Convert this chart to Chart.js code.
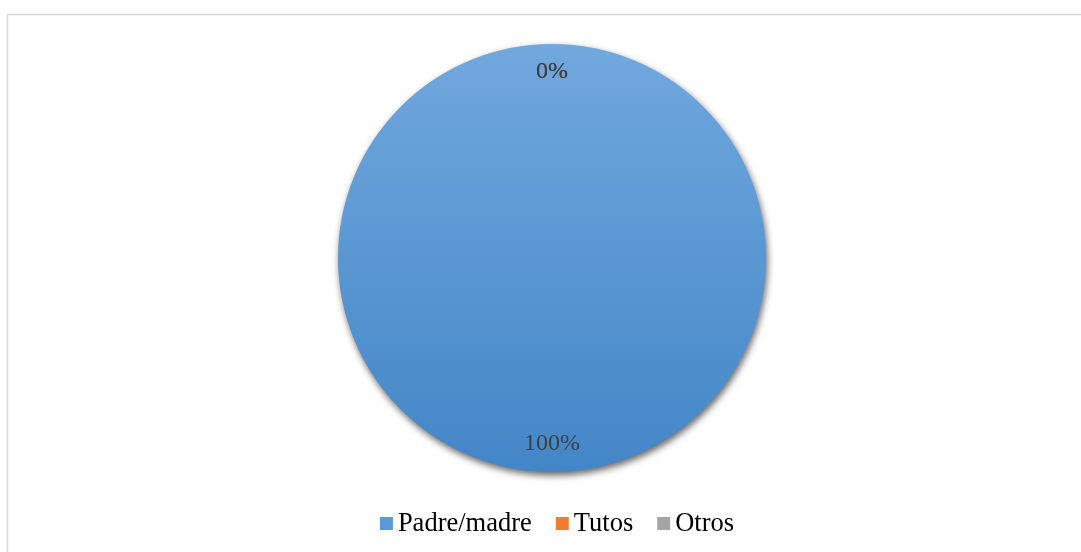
<!DOCTYPE html>
<html>
<head>
<meta charset="utf-8">
<script src="https://cdn.jsdelivr.net/npm/chart.js@4"></script>
<style>
  html, body { margin: 0; padding: 0; background: #fff; }
  #wrap { position: relative; width: 1081px; height: 552px; }
</style>
</head>
<body>
<div id="wrap"><canvas id="c" width="1081" height="552"></canvas></div>
<script>
// Respondent categories and their counts
const categories = ['Padre/madre', 'Tutos', 'Otros'];
const values = [100, 0, 0];
const swatchColors = ['#5b9bd5', '#ed7d31', '#a5a5a5'];

const serif = '"Liberation Serif", "Times New Roman", serif';

// Outer frame of the chart area
const framePlugin = {
  id: 'frame',
  beforeDraw(chart) {
    const ctx = chart.ctx;
    ctx.save();
    ctx.fillStyle = '#ffffff';
    ctx.fillRect(0, 0, chart.width, chart.height);
    ctx.strokeStyle = '#d9d9d9';
    ctx.lineWidth = 1.5;
    ctx.strokeRect(7.5, 14.5, chart.width + 20, chart.height + 20);
    ctx.restore();
  }
};

// Soft drop shadow under the pie
const shadowPlugin = {
  id: 'pieShadow',
  beforeDatasetsDraw(chart) {
    const ctx = chart.ctx;
    ctx.save();
    ctx.shadowColor = 'rgba(0,0,0,0.6)';
    ctx.shadowBlur = 7;
    ctx.shadowOffsetX = 1.5;
    ctx.shadowOffsetY = 3.5;
  },
  afterDatasetsDraw(chart) {
    chart.ctx.restore();
  }
};

// Percentage labels inside each slice, near the rim
const percentPlugin = {
  id: 'percentLabels',
  afterDatasetsDraw(chart) {
    const ctx = chart.ctx;
    const meta = chart.getDatasetMeta(0);
    const data = chart.data.datasets[0].data;
    const total = data.reduce((a, b) => a + b, 0);
    ctx.save();
    ctx.font = '24px ' + serif;
    ctx.fillStyle = '#404040';
    ctx.textAlign = 'center';
    ctx.textBaseline = 'middle';
    meta.data.forEach((arc, i) => {
      const p = arc.getProps(['x', 'y', 'startAngle', 'endAngle', 'outerRadius'], true);
      const mid = (p.startAngle + p.endAngle) / 2;
      const r = p.outerRadius * 0.87;
      const pct = Math.round(data[i] / total * 100) + '%';
      ctx.fillText(pct, p.x + Math.cos(mid) * r, p.y + Math.sin(mid) * r);
    });
    ctx.restore();
  }
};

// Legend row under the pie
const legendPlugin = {
  id: 'legendRow',
  afterDraw(chart) {
    const ctx = chart.ctx;
    const labels = chart.data.labels;
    ctx.save();
    ctx.font = '26.5px ' + serif;
    ctx.textBaseline = 'middle';
    const box = 13, gapText = 5, gapItem = 24;
    const widths = labels.map(l => ctx.measureText(l).width);
    const total = widths.reduce((a, w) => a + box + gapText + w, 0) + gapItem * (labels.length - 1);
    let x = 557 - total / 2;
    const y = 523.5;
    labels.forEach((l, i) => {
      ctx.fillStyle = swatchColors[i];
      ctx.fillRect(x, y - box / 2, box, box);
      x += box + gapText;
      ctx.fillStyle = '#000000';
      ctx.fillText(l, x, y + 1);
      x += widths[i] + gapItem;
    });
    ctx.restore();
  }
};

const ctx = document.getElementById('c').getContext('2d');

// Vertical shading for the slice fills
function sliceFill(context) {
  const chart = context.chart;
  const area = chart.chartArea;
  const base = swatchColors[context.dataIndex] || swatchColors[0];
  if (!area || context.dataIndex !== 0) return base;
  const g = chart.ctx.createLinearGradient(0, area.top, 0, area.bottom);
  g.addColorStop(0, '#71a8de');
  g.addColorStop(1, '#4386c7');
  return g;
}

new Chart(ctx, {
  type: 'pie',
  data: {
    labels: categories,
    datasets: [{
      data: values,
      backgroundColor: sliceFill,
      borderWidth: 0
    }]
  },
  options: {
    responsive: false,
    animation: false,
    layout: { padding: { top: 44, bottom: 80, left: 23, right: 0 } },
    plugins: {
      legend: { display: false },
      tooltip: { enabled: false }
    }
  },
  plugins: [framePlugin, shadowPlugin, percentPlugin, legendPlugin]
});
</script>
</body>
</html>
